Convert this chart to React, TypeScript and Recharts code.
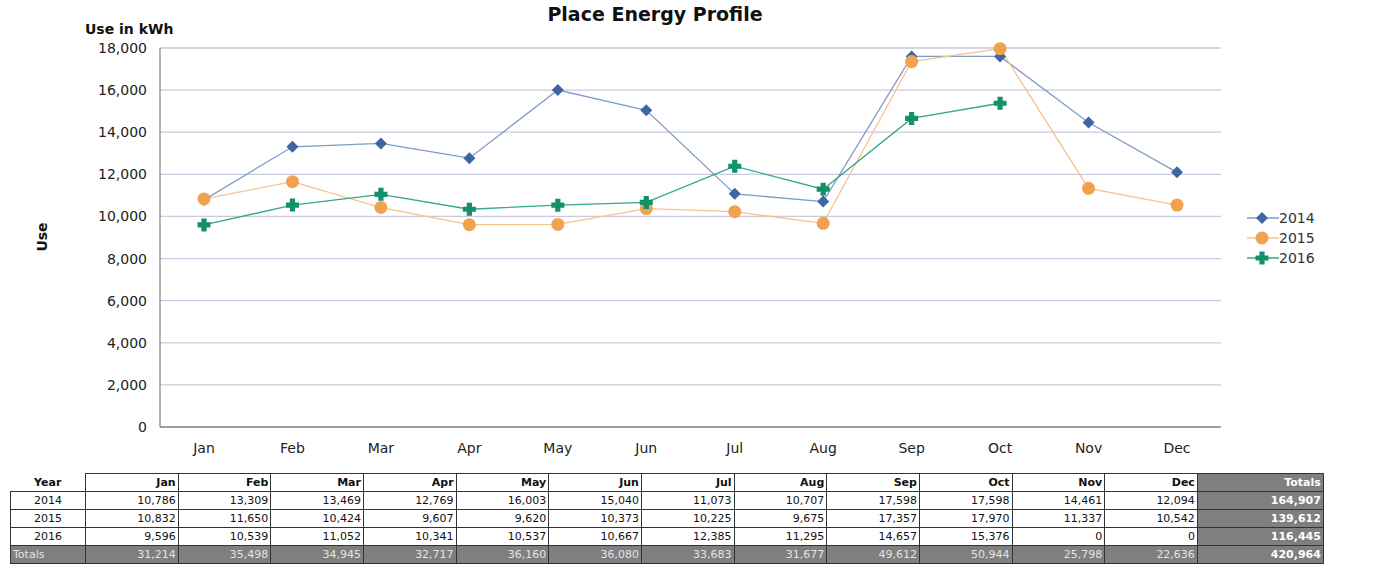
import { CartesianGrid, Line, LineChart, XAxis, YAxis } from "recharts";

const months = ["Jan", "Feb", "Mar", "Apr", "May", "Jun", "Jul", "Aug", "Sep", "Oct", "Nov", "Dec"];
const years = ["2014", "2015", "2016"];
const use2014 = [10786, 13309, 13469, 12769, 16003, 15040, 11073, 10707, 17598, 17598, 14461, 12094];
const use2015 = [10832, 11650, 10424, 9607, 9620, 10373, 10225, 9675, 17357, 17970, 11337, 10542];
const use2016 = [9596, 10539, 11052, 10341, 10537, 10667, 12385, 11295, 14657, 15376, null, null];
const yTicks = [0, 2000, 4000, 6000, 8000, 10000, 12000, 14000, 16000, 18000];

const seriesColors = {
  "2014": { line: "#7f9cc8", mark: "#3c67a3" },
  "2015": { line: "#f7c38c", mark: "#f0a24e" },
  "2016": { line: "#34a982", mark: "#12916a" },
};

const chartData = months.map((m, i) => ({ month: m, "2014": use2014[i], "2015": use2015[i], "2016": use2016[i] }));
const seriesByYear: Record<string, (number | null)[]> = { "2014": use2014, "2015": use2015, "2016": use2016 };

const fmt = (v: number) => v.toLocaleString("en-US");
const FONT = "'DejaVu Sans', Verdana, sans-serif";

const Marker = ({ kind, cx, cy, color }: { kind: string; cx: number; cy: number; color: string }) => {
  if (cx == null || cy == null) return null;
  if (kind === "2014") {
    const s = 6;
    return <path d={`M${cx},${cy - s}L${cx + s},${cy}L${cx},${cy + s}L${cx - s},${cy}Z`} fill={color} />;
  }
  if (kind === "2015") return <circle cx={cx} cy={cy} r={6.5} fill={color} />;
  const a = 6.5, w = 2.6;
  return (
    <path
      d={`M${cx - w},${cy - a}H${cx + w}V${cy - w}H${cx + a}V${cy + w}H${cx + w}V${cy + a}H${cx - w}V${cy + w}H${cx - a}V${cy - w}H${cx - w}Z`}
      fill={color}
    />
  );
};

const makeDot = (kind: string) => (props: any) => {
  const { cx, cy, index, value } = props;
  if (value == null) return <g key={`e-${kind}-${index}`} />;
  return (
    <g key={`d-${kind}-${index}`}>
      <Marker kind={kind} cx={cx} cy={cy} color={seriesColors[kind as keyof typeof seriesColors].mark} />
    </g>
  );
};

// legend drawn outside the chart so it doesn't eat into the plot area
const LegendBox = () => (
  <div style={{ position: "absolute", left: 1247, top: 208, fontFamily: FONT, fontSize: 14, color: "#333" }}>
    {years.map((y) => (
      <div key={y} style={{ display: "flex", alignItems: "center", height: 20 }}>
        <svg width={32} height={20}>
          <line x1={0} x2={32} y1={10} y2={10} stroke={seriesColors[y as keyof typeof seriesColors].line} strokeWidth={1.5} />
          <Marker kind={y} cx={15} cy={10} color={seriesColors[y as keyof typeof seriesColors].mark} />
        </svg>
        <span>{y}</span>
      </div>
    ))}
  </div>
);

const colWidths = [75, ...months.map(() => 92.67), 126];

const cellBase: React.CSSProperties = {
  border: "1px solid #333",
  padding: "0 2px",
  textAlign: "right",
  height: 17,
  lineHeight: "17px",
  overflow: "hidden",
  whiteSpace: "nowrap",
};

const DataTable = () => {
  const totalsByMonth = months.map((_, i) => years.reduce((s, y) => s + (seriesByYear[y][i] ?? 0), 0));
  const yearTotals = years.map((y) => seriesByYear[y].reduce((s: number, v) => s + (v ?? 0), 0));
  const grand = yearTotals.reduce((s, v) => s + v, 0);
  const gray: React.CSSProperties = { background: "#7f7f7f", color: "#e4e4e4" };
  const totalCol: React.CSSProperties = { background: "#7f7f7f", color: "#fff", fontWeight: "bold" };
  return (
    <table
      style={{
        position: "absolute",
        left: 10,
        top: 473,
        borderCollapse: "collapse",
        tableLayout: "fixed",
        width: 1313,
        fontFamily: FONT,
        fontSize: 11,
        color: "#111",
      }}
    >
      <colgroup>
        {colWidths.map((w, i) => (
          <col key={i} style={{ width: w }} />
        ))}
      </colgroup>
      <tbody>
        <tr>
          <td style={{ ...cellBase, border: "none", textAlign: "center", fontWeight: "bold" }}>Year</td>
          {months.map((m) => (
            <td key={m} style={{ ...cellBase, fontWeight: "bold" }}>{m}</td>
          ))}
          <td style={{ ...cellBase, ...totalCol }}>Totals</td>
        </tr>
        {years.map((y, r) => (
          <tr key={y}>
            <td style={{ ...cellBase, textAlign: "center", borderRight: "1px solid #333" }}>{y}</td>
            {months.map((m, i) => (
              <td key={m} style={cellBase}>{fmt(seriesByYear[y][i] ?? 0)}</td>
            ))}
            <td style={{ ...cellBase, ...totalCol }}>{fmt(yearTotals[r])}</td>
          </tr>
        ))}
        <tr>
          <td style={{ ...cellBase, ...gray, textAlign: "left" }}>Totals</td>
          {totalsByMonth.map((v, i) => (
            <td key={i} style={{ ...cellBase, ...gray }}>{fmt(v)}</td>
          ))}
          <td style={{ ...cellBase, ...totalCol }}>{fmt(grand)}</td>
        </tr>
      </tbody>
    </table>
  );
};

export default function App() {
  return (
    <div style={{ position: "absolute", left: 0, top: 0, width: 1388, height: 571, background: "#fff" }}>
      <div style={{ position: "absolute", left: 0, width: 1310, top: 3, textAlign: "center", fontFamily: FONT, fontWeight: "bold", fontSize: 19, color: "#111" }}>
        Place Energy Profile
      </div>
      <div style={{ position: "absolute", left: 85, top: 21, fontFamily: FONT, fontWeight: "bold", fontSize: 14, color: "#111" }}>
        Use in kWh
      </div>
      <div
        style={{
          position: "absolute",
          left: 42,
          top: 237,
          transform: "translate(-50%, -50%) rotate(-90deg)",
          fontFamily: FONT,
          fontWeight: "bold",
          fontSize: 14,
          color: "#111",
        }}
      >
        Use
      </div>
      <LineChart width={1388} height={470} data={chartData} margin={{ top: 48, right: 167, bottom: 13, left: 100 }}>
        <CartesianGrid vertical={false} stroke="#c9c9df" strokeWidth={1.3} />
        <XAxis
          dataKey="month"
          padding={{ left: 44, right: 44 }}
          tickLine={false}
          tickSize={0}
          tickMargin={16}
          axisLine={{ stroke: "#666" }}
          height={30}
          tick={{ fontFamily: FONT, fontSize: 14, fill: "#222" }}
        />
        <YAxis
          width={60}
          domain={[0, 18000]}
          ticks={yTicks}
          tickFormatter={fmt}
          tickLine={false}
          tickSize={0}
          tickMargin={13}
          axisLine={{ stroke: "#666" }}
          tick={{ fontFamily: FONT, fontSize: 14, fill: "#222" }}
        />
        {years.map((y) => (
          <Line
            key={y}
            dataKey={y}
            type="linear"
            stroke={seriesColors[y as keyof typeof seriesColors].line}
            strokeWidth={1.3}
            dot={makeDot(y)}
            activeDot={false}
            isAnimationActive={false}
          />
        ))}
      </LineChart>
      <LegendBox />
      <DataTable />
    </div>
  );
}
